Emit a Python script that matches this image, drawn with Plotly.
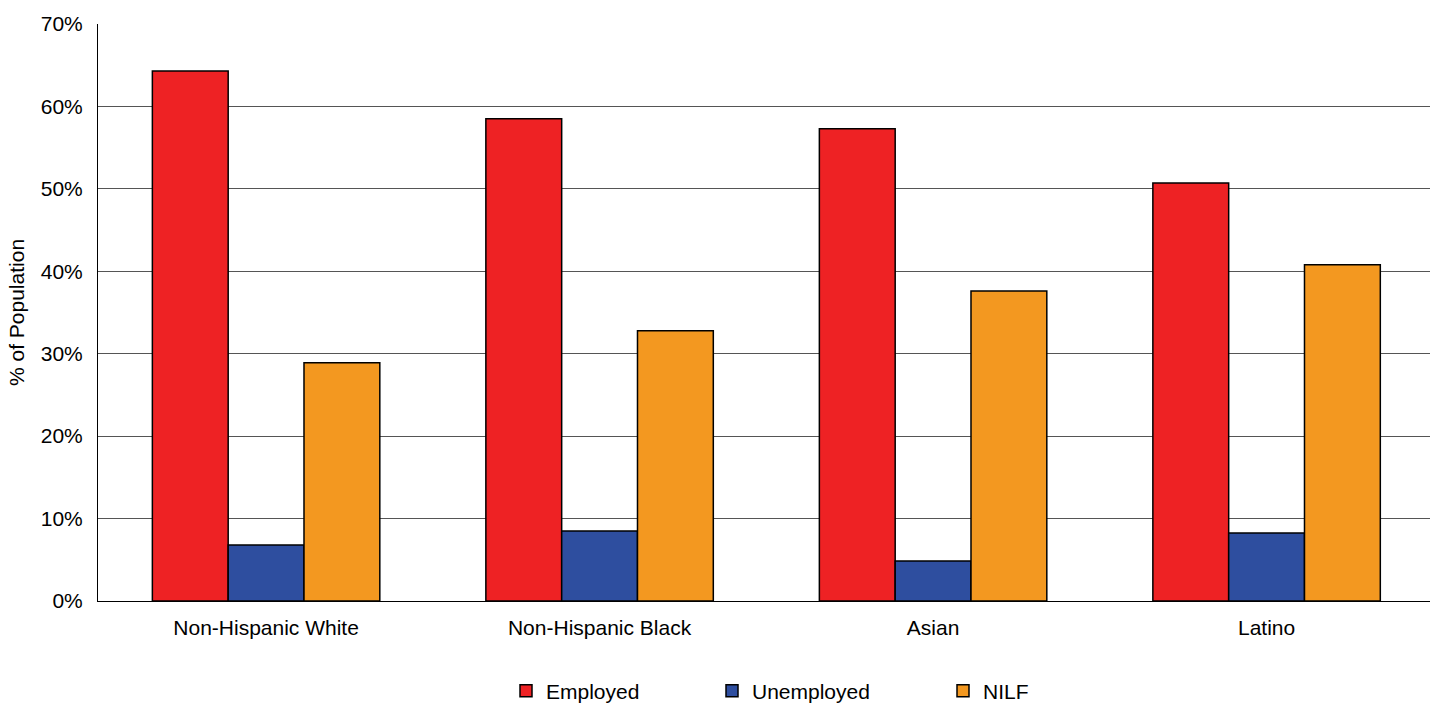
import plotly.graph_objects as go

categories = ["Non-Hispanic White", "Non-Hispanic Black", "Asian", "Latino"]
employed = [64.3, 58.5, 57.3, 50.7]
unemployed = [6.8, 8.5, 4.85, 8.25]
nilf = [28.9, 32.8, 37.6, 40.8]
tick_vals = [0, 10, 20, 30, 40, 50, 60, 70]
tick_text = ["0%", "10%", "20%", "30%", "40%", "50%", "60%", "70%"]

font = "Liberation Sans, Arial, sans-serif"
line = dict(color="black", width=1.5)
W, H = 1430, 703

fig = go.Figure()
fig.add_trace(go.Bar(name="Employed", x=categories, y=employed, legend="legend",
                     marker=dict(color="#EE2224", line=line)))
fig.add_trace(go.Bar(name="Unemployed", x=categories, y=unemployed, legend="legend2",
                     marker=dict(color="#2E4E9F", line=line)))
fig.add_trace(go.Bar(name="NILF", x=categories, y=nilf, legend="legend3",
                     marker=dict(color="#F39820", line=line)))

def leg(px):
    return dict(orientation="h", xref="container", yref="container",
                x=px / W, xanchor="left", y=1 - 691 / H, yanchor="middle",
                font=dict(size=21), itemwidth=30, bgcolor="rgba(0,0,0,0)")

fig.update_layout(
    width=W, height=H,
    margin=dict(l=98, r=0, t=24, b=102),
    plot_bgcolor="white", paper_bgcolor="white",
    barmode="group", bargap=0.318, bargroupgap=0,
    font=dict(family=font, size=21, color="black"),
    showlegend=True,
    legend=leg(506), legend2=leg(712), legend3=leg(943),
    xaxis=dict(showline=True, linecolor="black", linewidth=1, ticks="",
               range=[-0.504, 3.49],
               tickfont=dict(size=21), automargin=False, ticklabelstandoff=8),
    yaxis=dict(range=[0, 70], tickvals=tick_vals, ticktext=tick_text,
               showgrid=True, gridcolor="#555555", gridwidth=1,
               showline=True, linecolor="black", linewidth=1, ticks="",
               zeroline=False, automargin=False, ticklabelstandoff=10,
               tickfont=dict(size=21),
               title=dict(text="% of Population", font=dict(size=21), standoff=10)),
)

post = """
document.documentElement.style.margin='0';
document.body.style.margin='0';
document.documentElement.style.overflow='hidden';
document.body.style.overflow='hidden';
"""
fig.write_html("out.html", config={"displayModeBar": False}, post_script=post)
